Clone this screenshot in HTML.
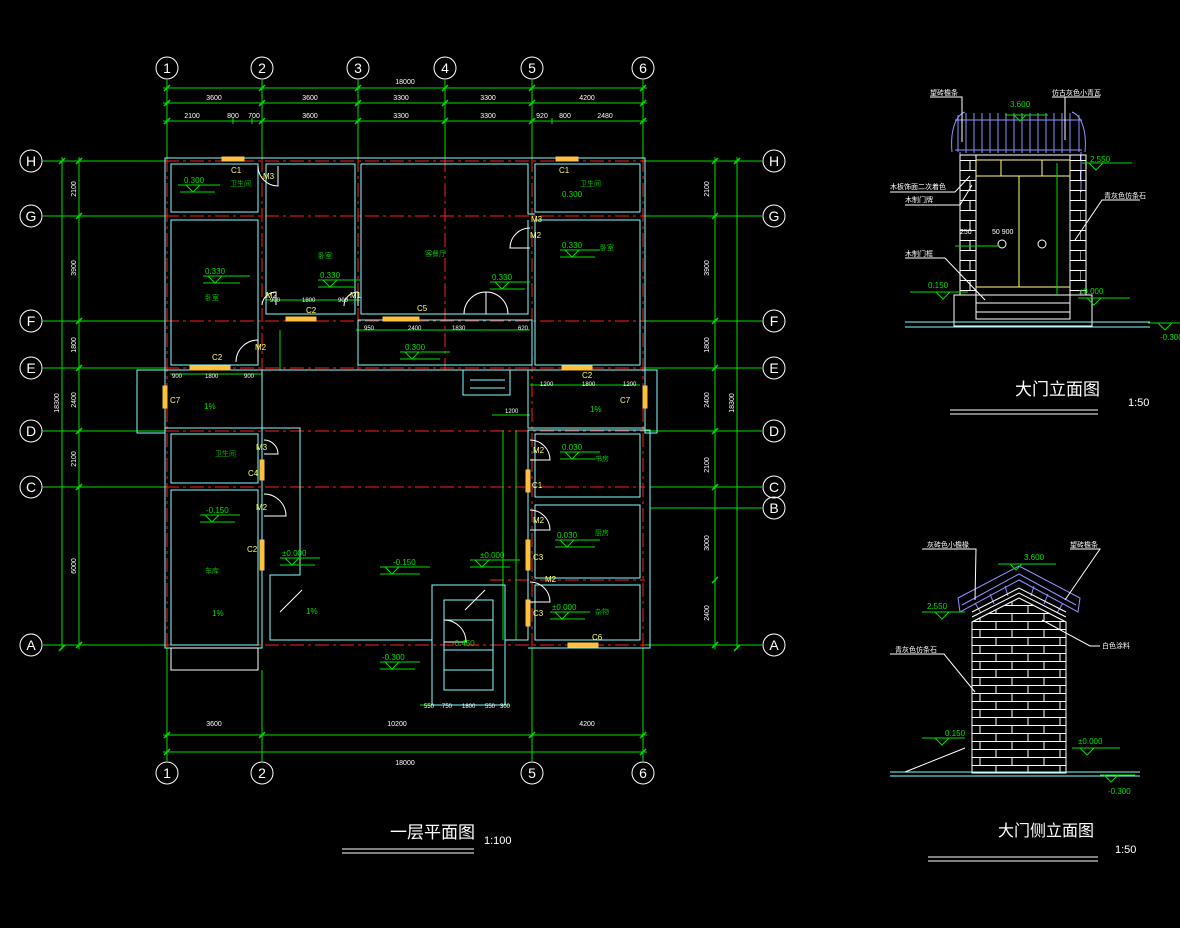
<!DOCTYPE html>
<html><head><meta charset="utf-8"><style>
html,body{margin:0;padding:0;background:#000;width:1180px;height:928px;overflow:hidden}
svg{display:block}
text{font-family:"Liberation Sans","Noto Sans CJK SC",sans-serif}
</style></head><body>
<svg width="1180" height="928" viewBox="0 0 1180 928" xmlns="http://www.w3.org/2000/svg">
<defs>
<pattern id="brick" x="972" y="613" width="32" height="16" patternUnits="userSpaceOnUse">
<rect width="32" height="16" fill="#000"/>
<path d="M0 0.5H32M0 8.5H32M8 0V8M24 8V16" stroke="#fff" stroke-width="1" fill="none"/>
</pattern>
<pattern id="brick2" x="960" y="160" width="20" height="20" patternUnits="userSpaceOnUse">
<path d="M0 0.5H20M0 10.5H20M10 0V10M0 10V20" stroke="#fff" stroke-width="1" fill="none"/>
</pattern>
</defs>
<rect width="1180" height="928" fill="#000"/>

<g stroke="#ff2020" stroke-width="1" stroke-dasharray="14 4 3 4">
<path d="M165 161H645M165 216H645M165 321H645M165 368H645M165 431H645M165 487H645M165 645H645M490 580H645"/>
<path d="M167 158V648M262 158V648M358 158V370M445 158V370M532 158V648M643 158V648"/>
</g>

<g stroke="#00e000" stroke-width="1" fill="none">
<path d="M43 161H165M43 216H165M43 321H165M43 368H165M43 431H165M43 487H165M43 645H165"/>
<path d="M645 161H762M645 216H762M645 321H762M645 368H762M645 431H762M650 487H762M650 508H762M645 645H762"/>
<path d="M167 80V158M262 80V158M358 80V158M445 80V158M532 80V158M643 80V158"/>
<path d="M167 648V761M262 670V761M532 648V761M643 648V761"/>
<path d="M163 88H647M163 103H647M163 121H647"/>
<path d="M233 118V124M252 118V124M532 118V124M552 118V124"/>
<path d="M163 735H647M163 752H647"/>
<path d="M62 157V649M79 157V649"/>
<path d="M737 157V649M715 157V649"/>
<path d="M266 300H360M356 330H530M530 385H640M170 374H262M492 415H530M420 705H510M503 430V640M516 430V640M280 330V370"/>
</g>
<g stroke="#00e000" stroke-width="1.5">
<path d="M164 91l6-6M259 91l6-6M355 91l6-6M442 91l6-6M529 91l6-6M640 91l6-6"/>
<path d="M164 106l6-6M259 106l6-6M355 106l6-6M442 106l6-6M529 106l6-6M640 106l6-6"/>
<path d="M164 124l6-6M259 124l6-6M355 124l6-6M442 124l6-6M529 124l6-6M640 124l6-6"/>
<path d="M164 738l6-6M259 738l6-6M529 738l6-6M640 738l6-6M164 755l6-6M640 755l6-6"/>
<path d="M59 164l6-6M59 651l6-6M76 164l6-6M76 219l6-6M76 324l6-6M76 371l6-6M76 434l6-6M76 490l6-6M76 648l6-6"/>
<path d="M734 164l6-6M734 651l6-6M712 164l6-6M712 219l6-6M712 324l6-6M712 371l6-6M712 434l6-6M712 490l6-6M712 583l6-6M712 648l6-6"/>
</g>

<g stroke="#fff" stroke-width="1" fill="none">
<circle cx="167" cy="68" r="11"/><circle cx="262" cy="68" r="11"/><circle cx="358" cy="68" r="11"/>
<circle cx="445" cy="68" r="11"/><circle cx="532" cy="68" r="11"/><circle cx="643" cy="68" r="11"/>
<circle cx="167" cy="773" r="11"/><circle cx="262" cy="773" r="11"/><circle cx="532" cy="773" r="11"/><circle cx="643" cy="773" r="11"/>
<circle cx="31" cy="161" r="11"/><circle cx="31" cy="216" r="11"/><circle cx="31" cy="321" r="11"/><circle cx="31" cy="368" r="11"/>
<circle cx="31" cy="431" r="11"/><circle cx="31" cy="487" r="11"/><circle cx="31" cy="645" r="11"/>
<circle cx="774" cy="161" r="11"/><circle cx="774" cy="216" r="11"/><circle cx="774" cy="321" r="11"/><circle cx="774" cy="368" r="11"/>
<circle cx="774" cy="431" r="11"/><circle cx="774" cy="487" r="11"/><circle cx="774" cy="508" r="11"/><circle cx="774" cy="645" r="11"/>
</g>
<g fill="#fff" font-size="14" text-anchor="middle">
<text x="167" y="73">1</text><text x="262" y="73">2</text><text x="358" y="73">3</text><text x="445" y="73">4</text><text x="532" y="73">5</text><text x="643" y="73">6</text>
<text x="167" y="778">1</text><text x="262" y="778">2</text><text x="532" y="778">5</text><text x="643" y="778">6</text>
<text x="31" y="166">H</text><text x="31" y="221">G</text><text x="31" y="326">F</text><text x="31" y="373">E</text><text x="31" y="436">D</text><text x="31" y="492">C</text><text x="31" y="650">A</text>
<text x="774" y="166">H</text><text x="774" y="221">G</text><text x="774" y="326">F</text><text x="774" y="373">E</text><text x="774" y="436">D</text><text x="774" y="492">C</text><text x="774" y="513">B</text><text x="774" y="650">A</text>
</g>

<g fill="#fff" font-size="7" text-anchor="middle">
<text x="405" y="84">18000</text>
<text x="214" y="100">3600</text><text x="310" y="100">3600</text><text x="401" y="100">3300</text><text x="488" y="100">3300</text><text x="587" y="100">4200</text>
<text x="192" y="118">2100</text><text x="233" y="118">800</text><text x="254" y="118">700</text><text x="310" y="118">3600</text><text x="401" y="118">3300</text><text x="488" y="118">3300</text><text x="542" y="118">920</text><text x="565" y="118">800</text><text x="605" y="118">2480</text>
<text x="214" y="726">3600</text><text x="397" y="726">10200</text><text x="587" y="726">4200</text><text x="405" y="765">18000</text>
</g>
<g fill="#fff" font-size="7" text-anchor="middle">
<text transform="translate(59 403) rotate(-90)">18300</text>
<text transform="translate(76 189) rotate(-90)">2100</text><text transform="translate(76 268) rotate(-90)">3900</text>
<text transform="translate(76 345) rotate(-90)">1800</text><text transform="translate(76 400) rotate(-90)">2400</text>
<text transform="translate(76 459) rotate(-90)">2100</text><text transform="translate(76 566) rotate(-90)">6000</text>
<text transform="translate(734 403) rotate(-90)">18300</text>
<text transform="translate(709 189) rotate(-90)">2100</text><text transform="translate(709 268) rotate(-90)">3900</text>
<text transform="translate(709 345) rotate(-90)">1800</text><text transform="translate(709 400) rotate(-90)">2400</text>
<text transform="translate(709 465) rotate(-90)">2100</text><text transform="translate(709 543) rotate(-90)">3000</text><text transform="translate(709 613) rotate(-90)">2400</text>
</g>

<g stroke="#80ffff" stroke-width="1" fill="none">
<rect x="165" y="158" width="480" height="212"/>
<rect x="171" y="164" width="87" height="48"/>
<rect x="171" y="220" width="87" height="145"/>
<rect x="266" y="164" width="89" height="150"/>
<path d="M361 164H528V214H535M361 164V314H528V220"/>
<rect x="535" y="164" width="105" height="48"/>
<rect x="535" y="220" width="105" height="145"/>
<path d="M358 320H532V365H358Z"/>
<rect x="165" y="370" width="97" height="58"/>
<rect x="528" y="370" width="117" height="58"/>
<rect x="171" y="434" width="87" height="49"/>
<rect x="171" y="490" width="87" height="155"/>
<rect x="165" y="428" width="97" height="220"/>
<path d="M262 428H300V575H270V640H432M505 640H528V430H650V648H528"/>
<rect x="535" y="434" width="105" height="63"/>
<rect x="535" y="505" width="105" height="73"/>
<rect x="535" y="585" width="105" height="55"/>
<rect x="137" y="370" width="28" height="63"/>
<rect x="645" y="370" width="12" height="63"/>
<rect x="432" y="585" width="73" height="120"/>
<rect x="444" y="600" width="49" height="90"/>
<path d="M444 620H493M444 650H493M444 670H493"/>
<path d="M463 370V395H510V370M470 380H505M470 388H505"/>
</g>
<rect x="171" y="648" width="87" height="22" fill="none" stroke="#fff"/>

<g fill="#ffc040" stroke="#ffc040">
<rect x="222" y="157" width="22" height="4"/><rect x="556" y="157" width="22" height="4"/>
<rect x="286" y="317" width="30" height="4"/><rect x="383" y="317" width="36" height="4"/>
<rect x="190" y="366" width="40" height="4"/><rect x="562" y="366" width="30" height="4"/>
<rect x="163" y="386" width="4" height="22"/><rect x="643" y="386" width="4" height="22"/>
<rect x="260" y="460" width="4" height="20"/><rect x="260" y="540" width="4" height="30"/>
<rect x="526" y="470" width="4" height="22"/><rect x="526" y="540" width="4" height="30"/><rect x="526" y="600" width="4" height="26"/>
<rect x="568" y="643" width="30" height="4"/>
</g>

<g stroke="#fff" fill="none" stroke-width="1">
<path d="M258 166A20 20 0 0 0 278 186V166"/>
<path d="M262 305A14 14 0 0 1 276 292V305"/>
<path d="M344 306A14 14 0 0 1 358 292V306"/>
<path d="M530 228A20 20 0 0 0 510 248H530"/>
<path d="M236 362A22 22 0 0 1 258 340V362"/>
<path d="M464 314A22 22 0 0 1 486 292V314M508 314A22 22 0 0 0 486 292"/>
<path d="M264 440A14 14 0 0 1 278 454H264"/>
<path d="M264 494A22 22 0 0 1 286 516H264"/>
<path d="M530 440A20 20 0 0 1 550 460H530"/>
<path d="M530 510A20 20 0 0 1 550 530H530"/>
<path d="M530 582A20 20 0 0 1 550 602H530"/>
<path d="M444 620A22 22 0 0 1 466 642H444"/>
<path d="M280 612l22-22M465 610l20-20"/>
</g>
<g fill="#ffff60" font-size="8">
<text x="231" y="173">C1</text><text x="263" y="179">M3</text><text x="559" y="173">C1</text><text x="531" y="222">M3</text>
<text x="530" y="238">M2</text><text x="306" y="313">C2</text><text x="417" y="311">C5</text><text x="350" y="298">M1</text>
<text x="266" y="298">M2</text><text x="212" y="360">C2</text><text x="255" y="350">M2</text><text x="170" y="403">C7</text>
<text x="582" y="378">C2</text><text x="620" y="403">C7</text><text x="256" y="450">M3</text><text x="248" y="476">C4</text>
<text x="256" y="510">M2</text><text x="247" y="552">C2</text><text x="533" y="453">M2</text><text x="532" y="488">C1</text>
<text x="533" y="523">M2</text><text x="533" y="560">C3</text><text x="545" y="582">M2</text><text x="533" y="616">C3</text><text x="592" y="640">C6</text>
</g>
<g stroke="#00e000" fill="none">
<path d="M178 185H220M186 185l7 7 7-7M180 192H215"/>
<path d="M203 276H250M208 276l7 7 7-7M203 283H240"/>
<path d="M318 280H360M323 280l7 7 7-7M318 287H355"/>
<path d="M490 282H530M495 282l7 7 7-7M490 289H525"/>
<path d="M560 250H600M565 250l7 7 7-7M560 257H595"/>
<path d="M400 352H450M405 352l7 7 7-7M400 359H440"/>
<path d="M560 452H600M565 452l7 7 7-7M560 459H595"/>
<path d="M555 540H600M560 540l7 7 7-7M555 547H595"/>
<path d="M550 612H590M555 612l7 7 7-7M550 619H585"/>
<path d="M200 515H240M205 515l7 7 7-7M200 522H235"/>
<path d="M280 558H320M285 558l7 7 7-7M280 565H315"/>
<path d="M380 567H430M385 567l7 7 7-7M380 574H420"/>
<path d="M470 560H520M475 560l7 7 7-7M470 567H510"/>
<path d="M380 662H420M385 662l7 7 7-7M380 669H415"/>
</g>
<g fill="#00e000" font-size="8">
<text x="184" y="183">0.300</text><text x="205" y="274">0.330</text><text x="320" y="278">0.330</text><text x="492" y="280">0.330</text>
<text x="562" y="248">0.330</text><text x="562" y="197">0.300</text><text x="405" y="350">0.300</text><text x="562" y="450">0.030</text>
<text x="557" y="538">0.030</text><text x="552" y="610">±0.000</text><text x="206" y="513">-0.150</text><text x="282" y="556">±0.000</text>
<text x="393" y="565">-0.150</text><text x="480" y="558">±0.000</text><text x="382" y="660">-0.300</text><text x="452" y="646">-0.450</text>
<text x="204" y="409">1%</text><text x="590" y="412">1%</text><text x="212" y="616">1%</text><text x="306" y="614">1%</text>
</g>
<g fill="#00c000" font-size="7">
<text x="230" y="186">卫生间</text><text x="580" y="186">卫生间</text><text x="205" y="300">卧室</text><text x="318" y="258">卧室</text>
<text x="425" y="256">客餐厅</text><text x="600" y="250">卧室</text><text x="215" y="456">卫生间</text><text x="595" y="461">书房</text>
<text x="595" y="535">厨房</text><text x="595" y="614">杂物</text><text x="205" y="573">车库</text>
</g>
<g fill="#fff" font-size="6">
<text x="270" y="302">900</text><text x="302" y="302">1800</text><text x="338" y="302">900</text>
<text x="364" y="330">950</text><text x="408" y="330">2400</text><text x="452" y="330">1830</text><text x="518" y="330">620</text>
<text x="172" y="378">900</text><text x="205" y="378">1800</text><text x="244" y="378">900</text>
<text x="540" y="386">1200</text><text x="582" y="386">1800</text><text x="623" y="386">1200</text>
<text x="505" y="413">1200</text><text x="424" y="708">550</text><text x="442" y="708">750</text><text x="462" y="708">1800</text><text x="485" y="708">550</text><text x="500" y="708">300</text>
</g>

<text x="390" y="838" fill="#fff" font-size="17">一层平面图</text>
<text x="484" y="844" fill="#fff" font-size="11">1:100</text>
<path d="M342 849H474M342 853H474" stroke="#fff"/>

<g stroke="#9090ff" fill="none">
<path d="M952 152C950 130 956 115 965 112M1085 152C1087 130 1081 115 1072 112"/>
<path d="M955 120H1082M955 150H1082M958 115V152M1079 115V152"/>
<path d="M966 113v40M974 113v40M982 113v40M990 113v40M998 113v40M1006 113v40M1014 113v40M1022 113v40M1030 113v40M1038 113v40M1046 113v40M1054 113v40M1062 113v40M1070 113v40"/>
<path d="M960 152v40M1081 152v40"/>
</g>
<rect x="960" y="155" width="16" height="140" fill="url(#brick2)" stroke="#fff"/>
<rect x="1070" y="155" width="16" height="140" fill="url(#brick2)" stroke="#fff"/>
<g stroke="#fff" fill="none">
<rect x="976" y="155" width="94" height="140"/>
<rect x="976" y="295" width="94" height="24"/>
<path d="M954 295H1092V326H954ZM976 303H1070M976 312H1070"/>
</g>
<g stroke="#ffff80" fill="none">
<rect x="976" y="160" width="94" height="16"/>
<path d="M976 176H1070M1019 176V287M976 287H1070M1001 160V176M1042 160V176"/>
</g>
<circle cx="1002" cy="244" r="4" stroke="#fff" fill="none"/><circle cx="1042" cy="244" r="4" stroke="#fff" fill="none"/>
<g stroke="#00e000" fill="none">
<path d="M1005 115H1048M1014 115l6 6 6-6M1082 163H1132M1089 163l7 7 7-7M910 292H968M936 292l7 7 7-7M1078 298H1130M1087 298l7 7 7-7M1148 323H1180M1158 323l7 7 7-7M1057 163V296M955 246H1000"/>
</g>
<path d="M905 322H1150M905 327H1150" stroke="#80ffff"/>
<g stroke="#fff" fill="none">
<path d="M930 97H962V142M1052 97H1100M1065 97V140M890 192H955L970 176M905 205H960L972 185M905 258H945L985 300M1140 200H1102L1075 240"/>
</g>
<g fill="#fff" font-size="7">
<text x="930" y="95">望砖檐条</text><text x="1052" y="95">仿古灰色小青瓦</text><text x="890" y="189">木板饰面二次着色</text><text x="905" y="202">木制门牌</text>
<text x="905" y="256">木制门框</text><text x="1104" y="198">青灰色仿条石</text><text x="960" y="234">250</text><text x="992" y="234">50 900</text>
</g>
<g fill="#00e000" font-size="8"><text x="1010" y="107">3.600</text><text x="1090" y="162">2.550</text><text x="928" y="288">0.150</text><text x="1079" y="294">±0.000</text><text x="1160" y="340">-0.300</text></g>
<text x="1015" y="395" fill="#fff" font-size="17">大门立面图</text>
<text x="1128" y="406" fill="#fff" font-size="11">1:50</text>
<path d="M950 410H1098M950 414H1098" stroke="#fff"/>

<g stroke="#9090ff" fill="none">
<path d="M958 598L1019 566L1080 598L1078 612L1019 580L960 612Z"/>
<path d="M962 605L1019 574L1076 605"/>
<path d="M975 603l6 10M990 594l4 10M1005 586l3 10M1034 586l-3 10M1048 594l-4 10M1063 603l-6 10"/>
</g>
<path d="M972 612L1019 588L1066 612M972 617L1019 593L1066 617M972 622L1019 598L1066 622" stroke="#fff" fill="none"/>
<path d="M972 622L1019 598L1066 622V773H972Z" fill="url(#brick)" stroke="#fff"/>
<path d="M890 772H1140M890 776H1140" stroke="#80ffff"/>
<g stroke="#00e000" fill="none">
<path d="M998 564H1056M1010 564l6 6 6-6M922 612H965M935 612l7 7 7-7M922 738H965M935 738l7 7 7-7M1072 748H1120M1080 748l7 7 7-7M1100 775H1135M1104 775l7 7 7-7"/>
</g>
<g stroke="#fff" fill="none"><path d="M922 549H976L975 600M1070 549H1100L1065 600M890 654H944L975 692M1100 646H1090L1042 620M905 772L965 748"/></g>
<g fill="#fff" font-size="7"><text x="927" y="547">灰砖色小檐椽</text><text x="1070" y="547">望砖檐条</text><text x="895" y="652">青灰色仿条石</text><text x="1102" y="648">白色涂料</text></g>
<g fill="#00e000" font-size="8"><text x="1024" y="560">3.600</text><text x="927" y="609">2.550</text><text x="945" y="736">0.150</text><text x="1078" y="744">±0.000</text><text x="1108" y="794">-0.300</text></g>
<text x="998" y="836" fill="#fff" font-size="16">大门侧立面图</text>
<text x="1115" y="853" fill="#fff" font-size="11">1:50</text>
<path d="M928 857H1098M928 861H1098" stroke="#fff"/>
</svg>
</body></html>
